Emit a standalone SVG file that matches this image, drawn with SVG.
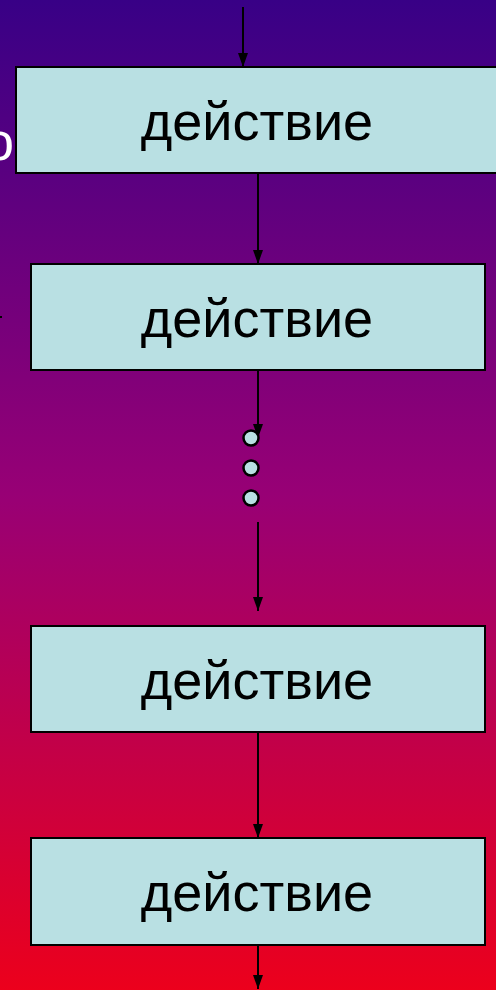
<svg xmlns="http://www.w3.org/2000/svg" width="496" height="990" viewBox="0 0 496 990">
<defs>
<linearGradient id="bg" x1="0" y1="0" x2="0" y2="1">
<stop offset="0" stop-color="#380086"/>
<stop offset="0.5" stop-color="#980075"/>
<stop offset="1" stop-color="#ec001c"/>
</linearGradient>
<marker id="ah" markerWidth="14" markerHeight="10" refX="14" refY="5" orient="auto" markerUnits="userSpaceOnUse" viewBox="0 0 14 10">
<path d="M0,0 L14,5 L0,10 Z" fill="#000"/>
</marker>
</defs>
<style>
.box{fill:#b9e0e3;stroke:#000;stroke-width:2}
.lbl{font-family:"Liberation Sans",Arial,sans-serif;font-size:54px;fill:#000;text-anchor:middle}
.edge{stroke:#000;stroke-width:2;fill:none}
.dot{fill:#b9e0e3;stroke:#000;stroke-width:2.5}
</style>
<rect x="0" y="0" width="496" height="990" fill="url(#bg)"/>
<text x="-16" y="160" font-family="Liberation Sans,Arial,sans-serif" font-size="54" fill="#fff">о</text>
<g id="connectors">
<line class="edge" x1="243" y1="7" x2="243" y2="67" marker-end="url(#ah)"/>
<line class="edge" x1="258" y1="173" x2="258" y2="264" marker-end="url(#ah)"/>
<line class="edge" x1="258" y1="370" x2="258" y2="438" marker-end="url(#ah)"/>
<line class="edge" x1="258" y1="522" x2="258" y2="611" marker-end="url(#ah)"/>
<line class="edge" x1="258" y1="732" x2="258" y2="838" marker-end="url(#ah)"/>
<line class="edge" x1="258" y1="945" x2="258" y2="989" marker-end="url(#ah)"/>
<line class="edge" x1="0" y1="317" x2="2" y2="317"/>
</g>
<g id="node1">
<rect class="box" x="16" y="67" width="490" height="106"/>
<text class="lbl" x="257" y="140">действие</text>
</g>
<g id="node2">
<rect class="box" x="31" y="264" width="454" height="106"/>
<text class="lbl" x="257" y="337">действие</text>
</g>
<g id="dots">
<circle class="dot" cx="251" cy="438" r="7.5"/>
<circle class="dot" cx="251" cy="468" r="7.5"/>
<circle class="dot" cx="251" cy="498" r="7.5"/>
</g>
<g id="node3">
<rect class="box" x="31" y="626" width="454" height="106"/>
<text class="lbl" x="257" y="699">действие</text>
</g>
<g id="node4">
<rect class="box" x="31" y="838" width="454" height="107"/>
<text class="lbl" x="257" y="911">действие</text>
</g>
</svg>
